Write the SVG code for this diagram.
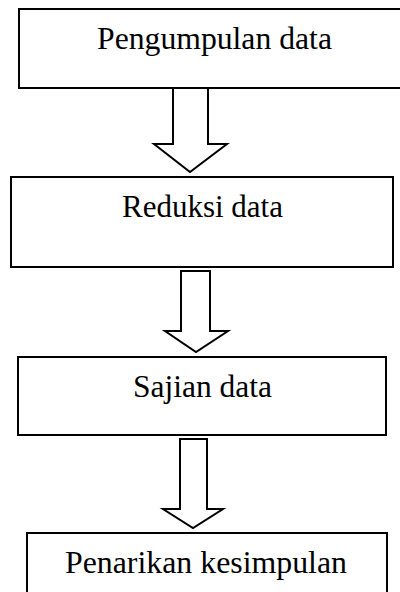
<svg xmlns="http://www.w3.org/2000/svg" width="400" height="592" viewBox="0 0 400 592">
<style>
.box{fill:#fff;stroke:#000;stroke-width:2}
.arr{fill:#fff;stroke:#000;stroke-width:2;stroke-linejoin:miter}
.lbl{font-family:"Liberation Serif","Times New Roman",serif;font-size:31px;fill:#000}
</style>
<rect width="400" height="592" fill="#fff"/>
<g id="connectors">
<polygon class="arr" points="173,88 208,88 208,144 227,144 190,172 154,144 173,144"/>
<polygon class="arr" points="181,271 210,271 210,331 228,331 196,352 165,331 181,331"/>
<polygon class="arr" points="180,439 207,439 207,509 223,509 193,528 163,509 180,509"/>
</g>
<g id="n1">
<rect class="box" x="19" y="9" width="400" height="79"/>
<text class="lbl" x="97" y="49" textLength="235" lengthAdjust="spacingAndGlyphs">Pengumpulan data</text>
</g>
<g id="n2">
<rect class="box" x="11" y="177" width="382" height="90"/>
<text class="lbl" x="122" y="217" textLength="161" lengthAdjust="spacingAndGlyphs">Reduksi data</text>
</g>
<g id="n3">
<rect class="box" x="18" y="357" width="368" height="78"/>
<text class="lbl" x="133" y="397" textLength="139" lengthAdjust="spacingAndGlyphs">Sajian data</text>
</g>
<g id="n4">
<rect class="box" x="27" y="533" width="360" height="80"/>
<text class="lbl" x="65" y="573" textLength="282" lengthAdjust="spacingAndGlyphs">Penarikan kesimpulan</text>
</g>
</svg>
